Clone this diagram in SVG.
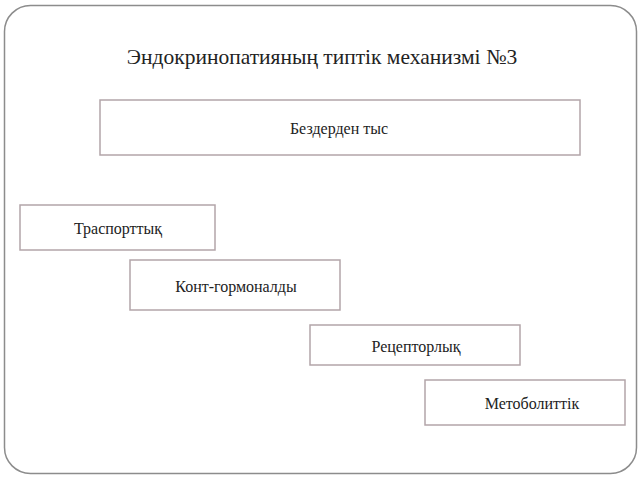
<svg xmlns="http://www.w3.org/2000/svg" width="640" height="480" viewBox="0 0 640 480">
<style>
.frame{fill:#fff;stroke:#8c8c8c;stroke-width:1.5}
.box{fill:#fff;stroke:#b3a5a9;stroke-width:1.5}
.lbl{font-family:"Liberation Serif","Times New Roman",serif;font-size:16px;fill:#222;text-anchor:middle;dominant-baseline:central}
.title{font-family:"Liberation Serif","Times New Roman",serif;font-size:21.5px;fill:#222;text-anchor:middle;dominant-baseline:central}
</style>
<rect width="640" height="480" fill="#fff"/>
<rect class="frame" x="4.5" y="5.5" width="632" height="468" rx="26" ry="26"/>
<text class="title" x="322" y="57">Эндокринопатияның типтік механизмі №3</text>
<g id="connectors"></g>
<g id="node-bezderden">
<rect class="box" x="100" y="100" width="480" height="55"/>
<text class="lbl" x="339" y="128">Бездерден тыс</text>
</g>
<g id="node-transport">
<rect class="box" x="20" y="205" width="195" height="45"/>
<text class="lbl" x="118" y="228">Траспорттық</text>
</g>
<g id="node-kont">
<rect class="box" x="130" y="260" width="210" height="50"/>
<text class="lbl" x="236" y="286">Конт-гормоналды</text>
</g>
<g id="node-receptor">
<rect class="box" x="310" y="325" width="210" height="40"/>
<text class="lbl" x="416" y="346">Рецепторлық</text>
</g>
<g id="node-metabolit">
<rect class="box" x="425" y="380" width="200" height="45"/>
<text class="lbl" x="532" y="403">Метоболиттік</text>
</g>
</svg>
